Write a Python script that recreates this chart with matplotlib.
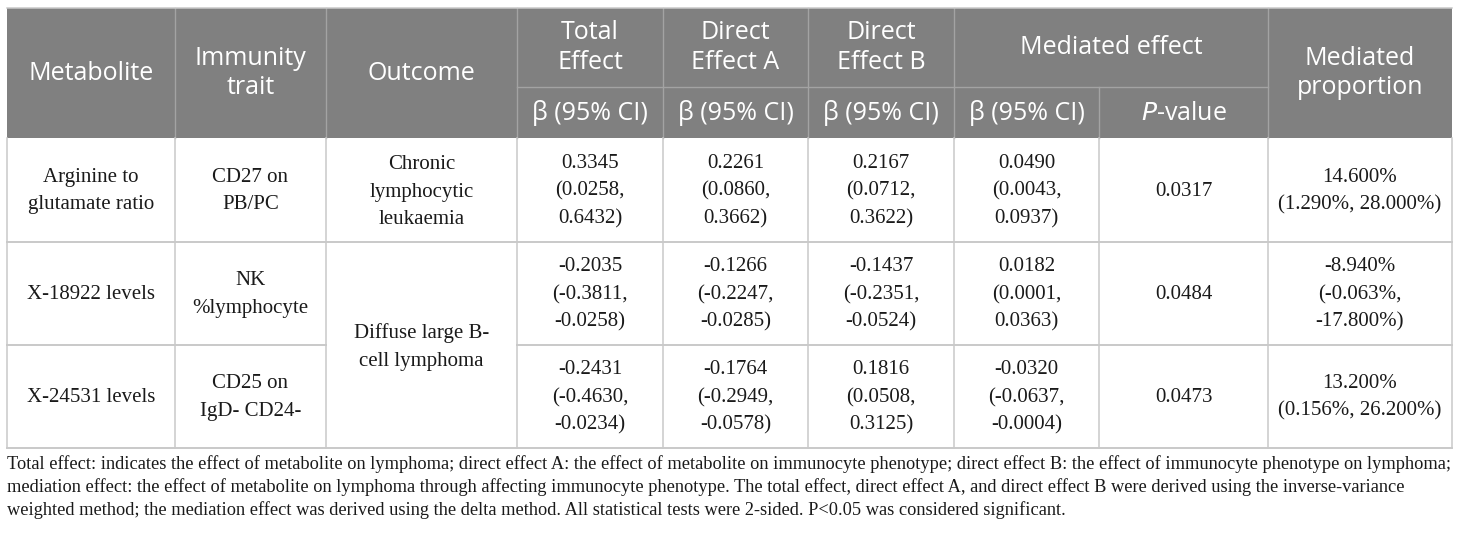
import matplotlib.pyplot as plt
from matplotlib.patches import Rectangle

# table content
metabolites = ["Arginine to\nglutamate ratio", "X-18922 levels", "X-24531 levels"]
immunity_traits = ["CD27 on\nPB/PC", "NK\n%lymphocyte", "CD25 on\nIgD- CD24-"]
outcomes = ["Chronic\nlymphocytic\nleukaemia", "Diffuse large B-\ncell lymphoma"]
outcome_rows = [(0, 1), (1, 3)]
total_effect = ["0.3345\n(0.0258,\n0.6432)", "-0.2035\n(-0.3811,\n-0.0258)", "-0.2431\n(-0.4630,\n-0.0234)"]
direct_a = ["0.2261\n(0.0860,\n0.3662)", "-0.1266\n(-0.2247,\n-0.0285)", "-0.1764\n(-0.2949,\n-0.0578)"]
direct_b = ["0.2167\n(0.0712,\n0.3622)", "-0.1437\n(-0.2351,\n-0.0524)", "0.1816\n(0.0508,\n0.3125)"]
mediated_beta = ["0.0490\n(0.0043,\n0.0937)", "0.0182\n(0.0001,\n0.0363)", "-0.0320\n(-0.0637,\n-0.0004)"]
mediated_p = ["0.0317", "0.0484", "0.0473"]
mediated_prop = ["14.600%\n(1.290%, 28.000%)", "-8.940%\n(-0.063%,\n-17.800%)", "13.200%\n(0.156%, 26.200%)"]

header_full = ["Metabolite", "Immunity\ntrait", "Outcome"]
header_top = ["Total\nEffect", "Direct\nEffect A", "Direct\nEffect B"]
sub_beta = "\u03b2 (95% CI)"
header_mediated = "Mediated effect"
header_prop = "Mediated\nproportion"

footnote = [
    "Total effect: indicates the effect of metabolite on lymphoma; direct effect A: the effect of metabolite on immunocyte phenotype; direct effect B: the effect of immunocyte phenotype on lymphoma;",
    "mediation effect: the effect of metabolite on lymphoma through affecting immunocyte phenotype. The total effect, direct effect A, and direct effect B were derived using the inverse-variance",
    "weighted method; the mediation effect was derived using the delta method. All statistical tests were 2-sided. P<0.05 was considered significant.",
]

# layout in pixels
col_x = [7, 175, 326, 517, 663, 808, 954, 1099, 1268, 1452]
y_top, y_sub, y_head = 8, 87, 138
row_y = [138, 242, 345, 448]

head_bg = "#808080"
head_line = "#a3a3a3"
body_line = "#c9c9c9"
head_font = dict(family="Open Sans", size=18, color="white", linespacing=1.22)
body_font = dict(family="Liberation Serif", size=15, color="#1a1a1a", linespacing=1.58)

fig = plt.figure(figsize=(14.6, 5.36), dpi=100)
ax = fig.add_axes([0, 0, 1, 1])
ax.set_xlim(0, 1460)
ax.set_ylim(536, 0)
ax.axis("off")


def cx(i, j=None):
    j = i + 1 if j is None else j
    return (col_x[i] + col_x[j]) / 2


# header background
ax.add_patch(Rectangle((col_x[0], y_top), col_x[-1] - col_x[0], y_head - y_top,
                       facecolor=head_bg, edgecolor="none"))

# header grid
for x in col_x[1:-1]:
    if x == col_x[7]:
        ax.plot([x, x], [y_sub, y_head], color=head_line, lw=1)
    else:
        ax.plot([x, x], [y_top, y_head], color=head_line, lw=1)
ax.plot([col_x[3], col_x[8]], [y_sub, y_sub], color=head_line, lw=1)

# header text
for i, t in enumerate(header_full):
    ax.text(cx(i), (y_top + y_head) / 2, t, ha="center", va="center", **head_font)
for i, t in enumerate(header_top):
    ax.text(cx(i + 3), (y_top + y_sub) / 2, t, ha="center", va="center", **head_font)
ax.text(cx(6, 8), (y_top + y_sub) / 2, header_mediated, ha="center", va="center", **head_font)
ax.text(cx(8), (y_top + y_head) / 2, header_prop, ha="center", va="center", **head_font)
for i in range(3, 7):
    ax.text(cx(i), (y_sub + y_head) / 2 + 1, sub_beta, ha="center", va="center", **head_font)
ax.text(cx(7), (y_sub + y_head) / 2 + 1, "$\\mathit{P}$-value", ha="center", va="center",
        **{**head_font, "math_fontfamily": "dejavusans"})

# body grid
for x in col_x:
    ax.plot([x, x], [y_head, row_y[-1]], color=body_line, lw=1.1)
ax.plot([col_x[0], col_x[-1]], [y_top, y_top], color=body_line, lw=1.1)
for k, y in enumerate(row_y[1:], start=1):
    if k == 2:
        ax.plot([col_x[0], col_x[2]], [y, y], color=body_line, lw=1.4)
        ax.plot([col_x[3], col_x[-1]], [y, y], color=body_line, lw=1.4)
    else:
        ax.plot([col_x[0], col_x[-1]], [y, y], color=body_line, lw=1.4)

# body text
columns = [metabolites, immunity_traits, None, total_effect, direct_a, direct_b,
           mediated_beta, mediated_p, mediated_prop]
for r in range(3):
    yc = (row_y[r] + row_y[r + 1]) / 2 + 1
    for c, vals in enumerate(columns):
        if vals is None:
            continue
        ax.text(cx(c), yc, vals[r], ha="center", va="center", **body_font)
for t, (r0, r1) in zip(outcomes, outcome_rows):
    ax.text(cx(2), (row_y[r0] + row_y[r1]) / 2 + 2, t, ha="center", va="center", **body_font)

# footnote, sized so the first line spans the table width
fig.canvas.draw()
renderer = fig.canvas.get_renderer()
probe = ax.text(0, 0, footnote[0], family="Liberation Serif", size=12)
w = probe.get_window_extent(renderer).width
probe.remove()
fsize = 12 * (col_x[-1] - col_x[0] - 4) / w
for i, line in enumerate(footnote):
    ax.text(col_x[0], 464 + 23 * i, line, ha="left", va="center",
            family="Liberation Serif", size=fsize, color="#1a1a1a")

fig.savefig("out.png", dpi=100)
